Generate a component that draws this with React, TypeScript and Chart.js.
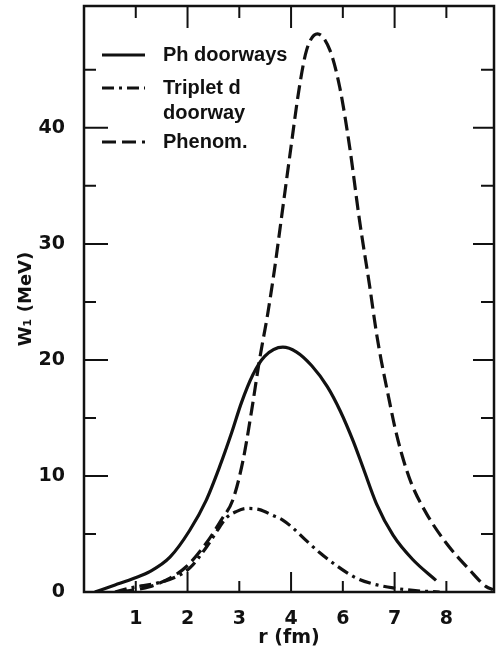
import React, { useEffect, useRef } from "react";
import { Chart, registerables } from "chart.js";

Chart.register(...registerables);

// x positions are in tick-slot units (the axis is labelled 1,2,3,4,6,7,8 in the original)
const xTickValues = [1, 2, 3, 4, 5, 6, 7];
const xTickLabels = ["1", "2", "3", "4", "6", "7", "8"];
const yTickValues = [0, 10, 20, 30, 40];
const yMinorValues = [5, 15, 25, 35, 45];

const phR = [0.21, 0.6, 0.98, 1.27, 1.66, 2.04, 2.36, 2.62, 2.85, 3.04, 3.26, 3.49, 3.84, 4.1, 4.4, 4.7, 4.95, 5.2, 5.4, 5.65, 5.97, 6.35, 6.8];
const phW = [0, 0.6, 1.2, 1.75, 3.0, 5.3, 7.9, 10.8, 13.7, 16.3, 18.7, 20.3, 21.1, 20.7, 19.5, 17.7, 15.6, 13.0, 10.6, 7.6, 4.9, 2.8, 1.0];

const trR = [0.6, 0.95, 1.4, 1.8, 2.05, 2.37, 2.62, 2.75, 2.95, 3.14, 3.39, 3.65, 3.84, 4.04, 4.3, 4.55, 4.87, 5.26, 5.58, 5.97, 6.4, 6.87];
const trW = [0, 0.4, 0.75, 1.35, 2.1, 3.9, 5.6, 6.4, 6.95, 7.2, 7.1, 6.6, 6.2, 5.5, 4.4, 3.4, 2.3, 1.2, 0.7, 0.35, 0.12, 0];

const pnR = [0.7, 1.27, 1.66, 1.98, 2.36, 2.65, 2.88, 3.07, 3.23, 3.39, 3.55, 3.68, 3.81, 4.0, 4.16, 4.3, 4.51, 4.75, 4.94, 5.13, 5.32, 5.52, 5.65, 5.74, 5.87, 6.0, 6.13, 6.32, 6.61, 7.0, 7.45, 7.77, 7.9];
const pnW = [0, 0.46, 1.2, 2.2, 4.2, 6.2, 8.0, 11.3, 15.4, 20, 24, 27.8, 32.1, 38.4, 43.5, 46.7, 48.1, 46.7, 43.5, 38.4, 32.1, 26.3, 22.3, 20, 17.1, 14.3, 12.0, 9.4, 6.8, 4.2, 1.9, 0.46, 0.2];

const seriesNames = ["Ph doorways", "Triplet d doorway", "Phenom."];
const legendLines = [["Ph doorways"], ["Triplet d", "doorway"], ["Phenom."]];

const INK = "#111";
const LEGEND_FONT = "'Liberation Sans', Arial, Helvetica, sans-serif";
const AXIS_FONT = "'DejaVu Sans', 'Liberation Sans', sans-serif";
const dashes = [[], [12, 5, 3, 5], [14, 6]];

const toPts = (xs: number[], ys: number[]) => xs.map((x, i) => ({ x, y: ys[i] }));

const framePlugin = {
  id: "frameTicksLegend",
  afterDatasetsDraw(chart: any) {
    const { ctx, chartArea: a, scales } = chart;
    const x = scales.x;
    const y = scales.y;
    ctx.save();
    ctx.setLineDash([]);
    ctx.strokeStyle = INK;
    ctx.lineWidth = 2.5;
    ctx.strokeRect(a.left, a.top, a.right - a.left, a.bottom - a.top);
    ctx.lineWidth = 2;
    ctx.beginPath();
    yTickValues.forEach((v) => {
      const py = y.getPixelForValue(v);
      ctx.moveTo(a.left, py);
      ctx.lineTo(a.left + 24, py);
      ctx.moveTo(a.right, py);
      ctx.lineTo(a.right - 21, py);
    });
    yMinorValues.forEach((v) => {
      const py = y.getPixelForValue(v);
      ctx.moveTo(a.left, py);
      ctx.lineTo(a.left + 12, py);
      ctx.moveTo(a.right, py);
      ctx.lineTo(a.right - 13, py);
    });
    xTickValues.forEach((v) => {
      const px = x.getPixelForValue(v);
      const long = v % 2 === 0;
      ctx.moveTo(px, a.bottom);
      ctx.lineTo(px, a.bottom - (long ? 20 : 11));
      ctx.moveTo(px, a.top);
      ctx.lineTo(px, a.top + (long ? 22 : 12));
    });
    ctx.stroke();

    // legend
    const rowY = [49, 82, 136];
    ctx.font = `bold 20px ${LEGEND_FONT}`;
    ctx.fillStyle = INK;
    ctx.textBaseline = "middle";
    ctx.textAlign = "left";
    legendLines.forEach((lines, i) => {
      const ly = a.top + rowY[i];
      ctx.beginPath();
      ctx.lineWidth = 3;
      ctx.setLineDash(dashes[i]);
      ctx.moveTo(a.left + 18, ly);
      ctx.lineTo(a.left + 61, ly);
      ctx.stroke();
      ctx.setLineDash([]);
      lines.forEach((t, j) => {
        ctx.fillText(t, a.left + 79, ly + j * 25);
      });
    });
    ctx.restore();
  },
};

export default function App() {
  const ref = useRef<HTMLCanvasElement | null>(null);
  useEffect(() => {
    if (!ref.current) return;
    const ds = [
      { label: seriesNames[0], data: toPts(phR, phW), dash: dashes[0] },
      { label: seriesNames[1], data: toPts(trR, trW), dash: dashes[1] },
      { label: seriesNames[2], data: toPts(pnR, pnW), dash: dashes[2] },
    ];
    const chart = new Chart(ref.current, {
      type: "line",
      data: {
        datasets: ds.map((d) => ({
          label: d.label,
          data: d.data,
          borderColor: INK,
          borderWidth: 3.2,
          borderDash: d.dash,
          pointRadius: 0,
          fill: false,
          cubicInterpolationMode: "monotone" as const,
        })),
      },
      options: {
        animation: false,
        responsive: false,
        layout: { padding: { top: 6, right: 4, left: 0, bottom: 0 } },
        plugins: { legend: { display: false }, tooltip: { enabled: false } },
        scales: {
          x: {
            type: "linear",
            min: 0,
            max: 7.92,
            grid: { display: false },
            border: { display: false },
            afterBuildTicks: (s: any) => {
              s.ticks = xTickValues.map((v) => ({ value: v }));
            },
            afterFit: (s: any) => {
              s.height = 63;
              s.paddingLeft = 0;
              s.paddingRight = 0;
            },
            ticks: {
              autoSkip: false,
              maxRotation: 0,
              padding: 8,
              color: INK,
              font: { family: AXIS_FONT, size: 19, weight: "bold" },
              callback: (_v: any, i: number) => xTickLabels[i],
            },
            title: {
              display: true,
              text: "r (fm)",
              color: INK,
              font: { family: AXIS_FONT, size: 19, weight: "bold" },
              padding: { top: 0, bottom: 6 },
            },
          },
          y: {
            type: "linear",
            min: 0,
            max: 50.5,
            grid: { display: false },
            border: { display: false },
            afterBuildTicks: (s: any) => {
              s.ticks = yTickValues.map((v) => ({ value: v }));
            },
            afterFit: (s: any) => {
              s.width = 84;
              s.paddingTop = 0;
              s.paddingBottom = 0;
            },
            ticks: {
              padding: 11,
              color: INK,
              font: { family: AXIS_FONT, size: 19, weight: "bold" },
              callback: (v: any) => String(v),
            },
            title: {
              display: true,
              text: "W\u2081 (MeV)",
              color: INK,
              font: { family: AXIS_FONT, size: 18, weight: "bold" },
              padding: { top: 16, bottom: 0 },
            },
          },
        },
      },
      plugins: [framePlugin],
    });
    return () => chart.destroy();
  }, []);
  return (
    <div style={{ position: "absolute", left: 0, top: 0, width: 498, height: 655, background: "#fff" }}>
      <canvas ref={ref} width={498} height={655} />
    </div>
  );
}
